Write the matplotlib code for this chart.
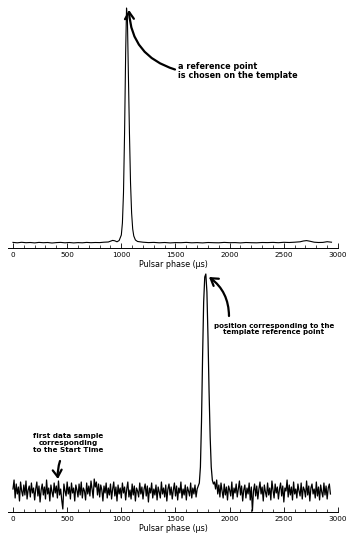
import numpy as np
import matplotlib
matplotlib.use("Agg")
import matplotlib.pyplot as plt
from matplotlib.ticker import MultipleLocator

# ---------------- data ----------------
# template profile (phase in microseconds, amplitude)
tmpl_phase = [0, 40, 80, 120, 160, 200, 240, 280, 320, 360, 400, 440, 480, 520,
              560, 600, 640, 680, 720, 760, 800, 840, 880, 900, 920, 940, 960,
              980, 1000, 1010, 1020, 1030, 1040, 1048, 1056, 1065, 1075, 1085,
              1095, 1105, 1115, 1130, 1150, 1200, 1250, 1300, 1350, 1400, 1450,
              1500, 1550, 1600, 1650, 1700, 1750, 1800, 1850, 1900, 1950, 2000,
              2050, 2100, 2150, 2200, 2250, 2300, 2350, 2400, 2450, 2500, 2550,
              2600, 2650, 2680, 2710, 2740, 2780, 2820, 2860, 2900, 2940]
tmpl_amp = [0.6, 0.2, 0.7, 0.3, 0.5, 0.1, 0.6, 0.3, 0.5, 0.0, 0.4, 0.6, 0.2, 0.5,
            0.1, 0.4, 0.2, 0.6, 0.3, 0.5, 0.4, 0.8, 1.0, 1.8, 2.6, 2.2, 1.2,
            2.5, 8, 20, 50, 110, 190, 235, 225, 170, 110, 60,
            30, 14, 7, 3.0, 1.5, 0.8, 0.4, 0.6, 0.2, 0.5, 0.1, 0.4, 0.3, 0.6,
            0.2, 0.4, 0.1, 0.5, 0.3, 0.2, 0.6, 0.3, 0.4, 0.1, 0.5, 0.3, 0.2,
            0.5, 0.4, 0.6, 0.3, 0.7, 0.5, 0.8, 1.2, 2.0, 2.4, 1.8, 0.8, 0.5,
            0.6, 1.3, 0.8]

# observed (noisy) profile sampled every 10 microseconds starting at 0
sample_step = 10
obs_amp = [
    3, 12, -6, 8, -2, 5, -9, 10, 1, -4, 7, -3, 11, -7, 2, 6, -5, 9, -1, 4,
    -8, 3, 10, -4, 6, -10, 2, 8, -3, 5, -7, 12, -2, 4, -9, 7, 0, -5, 9, -1,
    6, -6, 11, -3, 3, -8, -17, 8, 1, -4, 10, -2, 5, -7, 9, -1, 4, -9, 7, 2,
    -5, 8, -3, 10, -6, 4, 1, -8, 9, -2, 6, -4, 11, 3, -6, 13, 5, 10, -3, 8,
    -5, 7, 2, -9, 6, -1, 9, -6, 4, -3, 8, -7, 3, 10, -4, 5, -9, 7, -2, 4,
    -6, 9, -1, 5, -8, 3, 10, -5, 2, -7, 8, -3, 6, -9, 4, 1, -5, 9, -2, 5,
    -7, 3, 8, -4, 6, -10, 4, -1, 9, -6, 3, -3, 7, -8, 5, 0, -6, 10, -2, 4,
    -5, 7, -9, 3, 8, -3, 5, -7, 2, 9, -4, 6, -8, 4, -1, 10, -6, 3, -3, 7,
    -8, 5, 1, -4, 9, -6, 4, -2, 7, -5, 3, 6,
    9, 25, 70, 135, 190, 215, 218, 200, 155, 100, 55, 25, 12, 8,
    10, 3, 12, -2, 7, -5, 9, 1, -6, 8, -3, 5, -8, 6, 2, -4, 10, -7, 4, -1,
    8, -5, 3, 11, -3, 6, -9, 2, 7, -6, 4, -2, 9, -8, 5, -19, 1, 8, -4, 6,
    -7, 3, 10, -2, 5, -9, 7, 0, -5, 9, -3, 4, -8, 11, 2, -6, 8, -1, 5, -7,
    3, 9, -4, 6, -10, 4, 1, 12, -5, 7, -3, 5, -8, 10, -2, 3, -6, 8, 1, -4,
    9, -7, 5, 2, -5, 11, -3, 6, -9, 4, 8, -2, 3, -6, 10, -4, 5, -8, 7, 0,
    -5, 9, -3, 6, -7, 4, 8, -2,
]
obs_phase = np.arange(len(obs_amp)) * sample_step

xticks = [0, 500, 1000, 1500, 2000, 2500, 3000]
xlabel = "Pulsar phase (\u03bcs)"

# ---------------- figure ----------------
W, H = 347, 536
fig = plt.figure(figsize=(W / 100, H / 100), dpi=100)


def fx(px):
    return px / W


def fy(py):
    return 1 - py / H


def style_axis(ax):
    for s in ("left", "right", "top"):
        ax.spines[s].set_visible(False)
    ax.spines["bottom"].set_linewidth(0.7)
    ax.set_yticks([])
    ax.set_xlim(-46, 3000)
    ax.set_xticks(xticks)
    ax.xaxis.set_minor_locator(MultipleLocator(100))
    ax.tick_params(axis="x", which="major", direction="in", length=3.5,
                   width=0.6, labelsize=5.2, pad=3)
    ax.tick_params(axis="x", which="minor", direction="in", length=2,
                   width=0.5)
    ax.set_xlabel(xlabel, fontsize=5.8, labelpad=1.5)
    ax.patch.set_alpha(0)


# top: template
ax1 = fig.add_axes([fx(8), fy(247.6), fx(330), (247.6 - 8) / H])
ax1.plot(tmpl_phase, tmpl_amp, color="black", lw=0.8, clip_on=False)
ax1.set_ylim(-4.6, 235)
style_axis(ax1)

# bottom: observation
ax2 = fig.add_axes([fx(8), fy(512), fx(330), (512 - 274) / H])
ax2.plot(obs_phase, obs_amp, color="black", lw=0.9, clip_on=False)
ax2.set_ylim(-20, 218)
style_axis(ax2)

# annotations
fig.text(fx(178), fy(71), "a reference point\nis chosen on the template",
         fontsize=5.9, fontweight="bold", ha="left", va="center",
         linespacing=1.05)
ax1.annotate("", xy=(1071, 233), xycoords="data",
             xytext=(fx(175), fy(69.5)), textcoords="figure fraction",
             arrowprops=dict(arrowstyle="->,head_length=0.5,head_width=0.32",
                             lw=1.6, color="black",
                             connectionstyle="arc3,rad=-0.35",
                             shrinkA=0, shrinkB=0))

fig.text(fx(274), fy(329), "position corresponding to the\ntemplate reference point",
         fontsize=5.1, fontweight="bold", ha="center", va="center",
         linespacing=1.15)
ax2.annotate("", xy=(1809, 215), xycoords="data",
             xytext=(fx(229), fy(316)), textcoords="figure fraction",
             arrowprops=dict(arrowstyle="->,head_length=0.5,head_width=0.32",
                             lw=1.6, color="black",
                             connectionstyle="arc3,rad=0.25",
                             shrinkA=0, shrinkB=0))

fig.text(fx(68), fy(443), "first data sample\ncorresponding\nto the Start Time",
         fontsize=5.2, fontweight="bold", ha="center", va="center",
         linespacing=1.15)
ax2.annotate("", xy=(415, 13), xycoords="data",
             xytext=(fx(60), fy(461)), textcoords="figure fraction",
             arrowprops=dict(arrowstyle="->,head_length=0.5,head_width=0.32",
                             lw=1.6, color="black",
                             connectionstyle="arc3,rad=0.1",
                             shrinkA=0, shrinkB=0))

fig.savefig("out.png", dpi=100, facecolor="white")
